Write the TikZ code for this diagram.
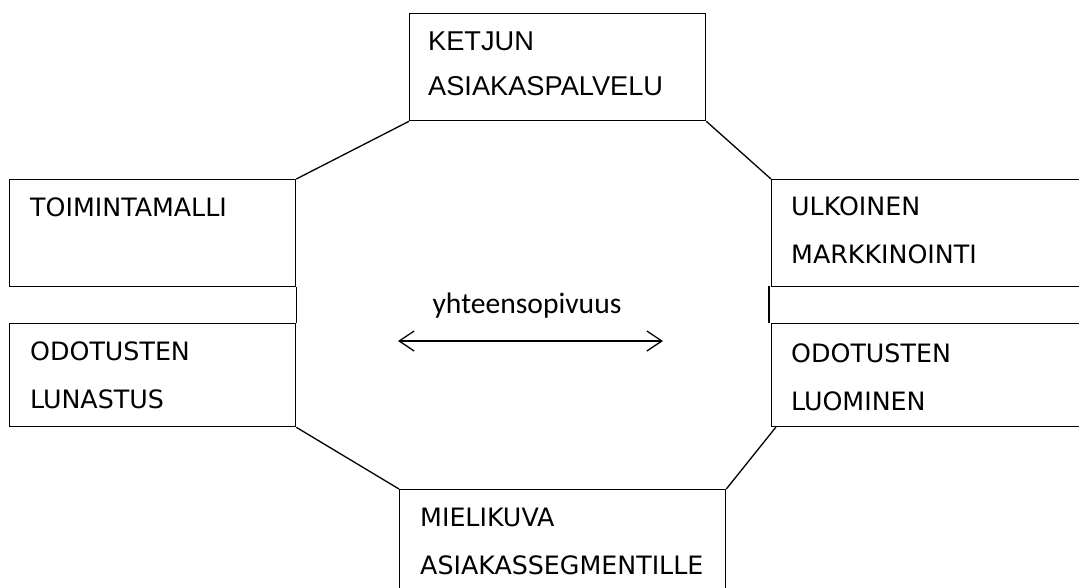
\documentclass[tikz,border=0pt]{standalone}
\usepackage{fontspec}
\setmainfont{DejaVu Sans}
\newfontfamily\arialf{Liberation Sans}
\newfontfamily\calibrif{Carlito}
\usetikzlibrary{arrows.meta}
\tikzset{
  box/.style={draw, line width=1.3pt, rectangle, inner sep=0pt, anchor=north west},
  edge/.style={line width=1.3pt},
  lbl/.style={anchor=base west, inner sep=0pt, font=\fontsize{25.3}{29}\selectfont},
  lblA/.style={anchor=base west, inner sep=0pt, font=\arialf\fontsize{27.2}{31}\selectfont},
}
\begin{document}
\begin{tikzpicture}[x=1pt,y=-1pt]
\useasboundingbox (0,0) rectangle (1079,587);
\clip (0,0) rectangle (1079,587);
\fill[white] (0,0) rectangle (1079,587);
% boxes
\node[box, minimum width=296pt, minimum height=107pt] (top) at (409,13) {};
\node[box, minimum width=286pt, minimum height=107pt] (tl) at (9,179) {};
\node[box, minimum width=286pt, minimum height=103pt] (bl) at (9,323) {};
\node[box, minimum width=340pt, minimum height=107pt] (tr) at (771,179) {};
\node[box, minimum width=340pt, minimum height=103pt] (br) at (771,323) {};
\node[box, minimum width=326pt, minimum height=120pt] (bot) at (399,489) {};
% octagon edges
\draw[edge] (top.south west) -- (tl.north east);
\draw[edge] (top.south east) -- (tr.north west);
\draw[edge] (tl.south east) -- (bl.north east);
\coordinate (rv1) at (769,286);
\coordinate (rv2) at (769,323);
\draw[edge] (rv1) -- (rv2);
\draw[edge] (bl.south east) -- (bot.north west);
\coordinate (brc) at (776,427);
\draw[edge] (bot.north east) -- (brc);
% texts
\node[lblA] (t1) at (428,50) {KETJUN};
\node[lblA] (t2) at (428,95) {ASIAKASPALVELU};
\node[lbl] (t3) at (30,216) {TOIMINTAMALLI};
\node[lbl] (t4) at (30,360) {ODOTUSTEN};
\node[lbl] (t5) at (30,408) {LUNASTUS};
\node[lbl] (t6) at (791,215) {ULKOINEN};
\node[lbl] (t7) at (791,263) {MARKKINOINTI};
\node[lbl] (t8) at (791,362) {ODOTUSTEN};
\node[lbl] (t9) at (791,410) {LUOMINEN};
\node[lbl] (t10) at (420,526) {MIELIKUVA};
\node[lbl] (t11) at (420,574) {ASIAKASSEGMENTILLE};
\node[anchor=base, inner sep=0pt, font=\calibrif\fontsize{29.6}{34}\selectfont] (yh) at (527,313) {yhteensopivuus};
\coordinate (al) at (398,341);
\coordinate (ar) at (663,341);
\draw[line width=1.3pt, {Straight Barb[length=15pt,width=20pt]}-{Straight Barb[length=15pt,width=20pt]}] (al) -- (ar);
\end{tikzpicture}
\end{document}
